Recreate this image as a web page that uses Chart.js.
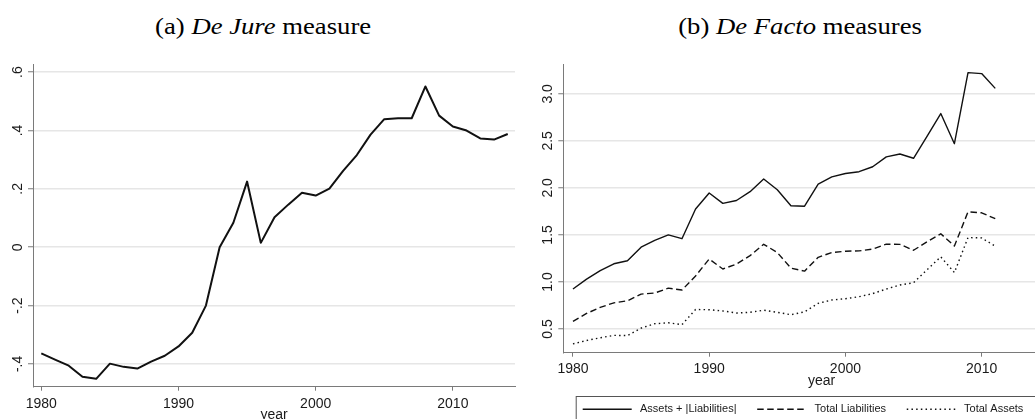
<!DOCTYPE html>
<html><head><meta charset="utf-8">
<script src="https://cdn.jsdelivr.net/npm/chart.js@4.4.1/dist/chart.umd.min.js"></script>
<style>
html,body{margin:0;padding:0;background:#fff;}
body{width:1035px;height:419px;overflow:hidden;position:relative;}
.ttl{position:absolute;top:15px;width:600px;text-align:center;font-family:'Liberation Serif','Times New Roman',serif;font-size:23px;line-height:1;color:#000;white-space:nowrap;}
.ttl span{display:inline-block;transform:scaleX(1.16);transform-origin:50% 50%;}
#wrapA{position:absolute;left:0;top:0;width:517px;height:440px;}
#wrapB{position:absolute;left:520px;top:0;width:570px;height:440px;}
</style></head><body>
<div class="ttl" style="left:-37px"><span>(a) <i>De Jure</i> measure</span></div>
<div class="ttl" style="left:500px"><span>(b) <i>De Facto</i> measures</span></div>
<div id="wrapA"><canvas id="cA"></canvas></div>
<div id="wrapB"><canvas id="cB"></canvas></div>
<script>
// ---------- data ----------
const yearsA = [1980,1981,1982,1983,1984,1985,1986,1987,1988,1989,1990,1991,1992,1993,1994,1995,1996,1997,1998,1999,2000,2001,2002,2003,2004,2005,2006,2007,2008,2009,2010,2011,2012,2013,2014];
const deJure = [-0.364,-0.385,-0.406,-0.444,-0.451,-0.399,-0.410,-0.416,-0.392,-0.372,-0.340,-0.293,-0.200,0.000,0.084,0.225,0.015,0.103,0.146,0.187,0.177,0.201,0.262,0.316,0.386,0.439,0.442,0.442,0.551,0.451,0.414,0.400,0.373,0.369,0.388];

const yearsB = [1980,1981,1982,1983,1984,1985,1986,1987,1988,1989,1990,1991,1992,1993,1994,1995,1996,1997,1998,1999,2000,2001,2002,2003,2004,2005,2006,2007,2008,2009,2010,2011];
const assetsPlusLiab = [0.925,1.030,1.120,1.193,1.225,1.370,1.443,1.500,1.460,1.775,1.946,1.835,1.866,1.960,2.095,1.980,1.810,1.805,2.040,2.117,2.153,2.172,2.225,2.330,2.360,2.315,2.550,2.790,2.470,3.225,3.215,3.058];
const totalLiab = [0.580,0.665,0.730,0.778,0.800,0.871,0.882,0.934,0.914,1.064,1.244,1.138,1.190,1.280,1.400,1.313,1.147,1.115,1.262,1.313,1.327,1.330,1.350,1.402,1.400,1.337,1.427,1.512,1.383,1.745,1.735,1.673];
const totalAssets = [0.342,0.378,0.407,0.432,0.430,0.510,0.556,0.566,0.546,0.707,0.705,0.692,0.670,0.677,0.700,0.677,0.652,0.682,0.772,0.808,0.822,0.843,0.876,0.925,0.968,0.992,1.130,1.267,1.100,1.472,1.468,1.380];
const seriesLabelsB = ['Assets + |Liabilities|','Total Liabilities','Total Assets'];

const xTicks = [1980,1990,2000,2010];
const yTicksA = [-0.4,-0.2,0,0.2,0.4,0.6];
const yTickLabelsA = ['-.4','-.2','0','.2','.4','.6'];
const yTicksB = [0.5,1.0,1.5,2.0,2.5,3.0];
const yTickLabelsB = ['0.5','1.0','1.5','2.0','2.5','3.0'];

// ---------- styling ----------
const FONT = {family:"'Liberation Sans', Arial, sans-serif", size:14};
const TXT = '#1a1a1a';
const AXIS = '#7a7a7a';
const GRID = '#e6e6e6';

function pts(xs, ys){ return xs.map((x,i)=>({x:x, y:ys[i]})); }

function xScale(min, max, h, pad, titlePad){
  return {
    type:'linear', min:min, max:max,
    afterBuildTicks: s => { s.ticks = xTicks.map(v=>({value:v})); },
    afterFit: s => { s.height = h; },
    ticks:{font:FONT, color:TXT, padding:pad, maxRotation:0, minRotation:0, autoSkip:false, callback:v=>String(v)},
    grid:{drawOnChartArea:false, tickLength:4, tickColor:AXIS, tickWidth:1},
    border:{display:true, color:AXIS, width:1},
    title:{display:true, text:'year', font:FONT, color:TXT, padding:{top:0,bottom:titlePad}}
  };
}
function yScale(min, max, w, vals, labels, pad, gw){
  return {
    type:'linear', min:min, max:max,
    afterBuildTicks: s => { s.ticks = vals.map(v=>({value:v})); },
    afterFit: s => { s.width = w; },
    ticks:{font:FONT, color:TXT, padding:pad, minRotation:90, maxRotation:90, crossAlign:'center', autoSkip:false,
      callback:(v,i)=>labels[i]},
    grid:{drawOnChartArea:true, color:GRID, lineWidth:gw, tickLength:5, tickColor:AXIS, tickWidth:1},
    border:{display:true, color:AXIS, width:1}
  };
}

const legendB = {
  id:'stataLegend',
  afterDraw(chart, args, o){
    const ctx = chart.ctx;
    ctx.save();
    ctx.font = "11px 'Liberation Sans', Arial, sans-serif";
    ctx.textBaseline = 'middle';
    let x = o.startX;
    const items = chart.data.datasets.map(ds=>({ds:ds, w:ctx.measureText(ds.label).width}));
    let endX = x;
    items.forEach((it,i)=>{
      endX += o.sample + o.gap + it.w + (i<items.length-1 ? o.itemGap : 0);
    });
    ctx.strokeStyle = '#555'; ctx.lineWidth = 1;
    ctx.strokeRect(o.frameX + 0.5, o.frameY + 0.5, (endX + o.rightPad) - o.frameX, 80);
    items.forEach(it=>{
      ctx.beginPath();
      ctx.setLineDash(it.ds.borderDash || []);
      ctx.strokeStyle = it.ds.borderColor; ctx.lineWidth = it.ds.borderWidth;
      ctx.moveTo(x, o.textY); ctx.lineTo(x + o.sample, o.textY); ctx.stroke();
      ctx.setLineDash([]);
      ctx.fillStyle = TXT;
      ctx.fillText(it.ds.label, x + o.sample + o.gap, o.textY);
      x += o.sample + o.gap + it.w + o.itemGap;
    });
    ctx.restore();
  }
};

const common = {
  responsive:true, maintainAspectRatio:false, animation:false,
  elements:{point:{radius:0}, line:{tension:0, fill:false, borderJoinStyle:'round'}},
  events:[]
};

new Chart(document.getElementById('cA'), {
  type:'line',
  data:{datasets:[{label:'De Jure', data:pts(yearsA, deJure), borderColor:'#111', borderWidth:2}]},
  options:Object.assign({}, common, {
    layout:{padding:{top:64,left:0,right:2,bottom:0}},
    plugins:{legend:{display:false}, tooltip:{enabled:false}},
    scales:{
      x:xScale(1979.395, 2014.53, 53.3, 5, 16.6),
      y:yScale(-0.478, 0.628, 33, yTicksA, yTickLabelsA, 2, 1.5)
    }
  })
});

new Chart(document.getElementById('cB'), {
  type:'line',
  data:{datasets:[
    {label:seriesLabelsB[0], data:pts(yearsB, assetsPlusLiab), borderColor:'#111', borderWidth:1.4},
    {label:seriesLabelsB[1], data:pts(yearsB, totalLiab), borderColor:'#111', borderWidth:1.4, borderDash:[6.5,3.5]},
    {label:seriesLabelsB[2], data:pts(yearsB, totalAssets), borderColor:'#111', borderWidth:1.4, borderDash:[1.5,3.2]}
  ]},
  options:Object.assign({}, common, {
    layout:{padding:{top:64,left:0,right:10,bottom:45}},
    plugins:{legend:{display:false}, tooltip:{enabled:false},
      stataLegend:{frameX:55.7, frameY:396, startX:62.7, textY:409.3, sample:49, gap:8.3, itemGap:20.7, rightPad:20}},
    scales:{
      x:xScale(1979.29, 2017.22, 42.3, 4, 5.9),
      y:yScale(0.248, 3.317, 43.3, yTicksB, yTickLabelsB, 0.3, 1.5)
    }
  }),
  plugins:[legendB]
});
</script>
</body></html>
